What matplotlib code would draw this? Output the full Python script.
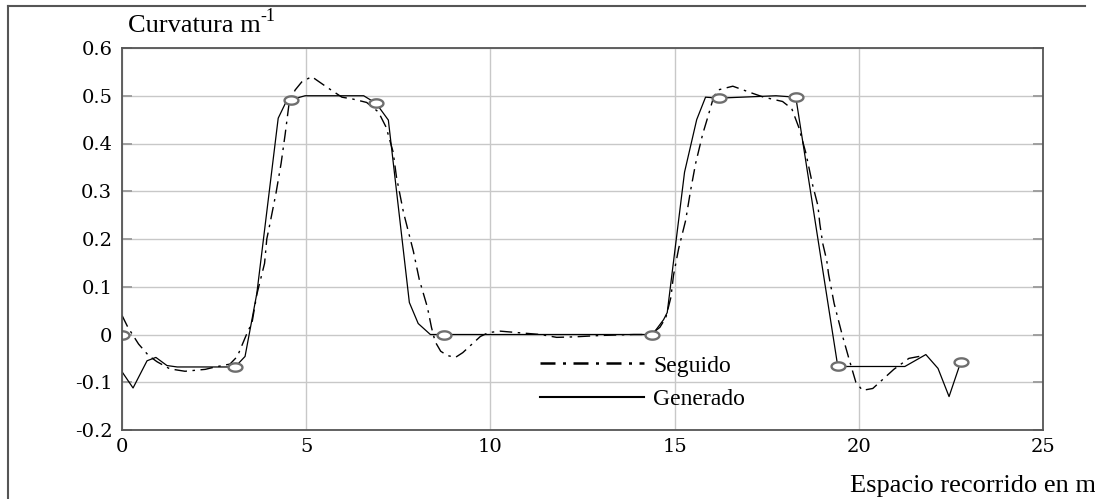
import numpy as np
import matplotlib
matplotlib.use('Agg')
import matplotlib.pyplot as plt
from matplotlib.path import Path
from matplotlib.lines import Line2D

# curva generada (linea continua)
x_gen = [0, 0, 0.3, 0.68, 0.92, 1.22, 1.5, 3.07, 3.34, 3.66, 4.24, 4.49, 4.6, 4.97,
         6.56, 6.9, 7.23, 7.8, 8.04, 8.37, 8.75, 14.4, 14.7, 14.8, 15.27, 15.6, 15.84,
         16.2, 17.75, 18.29, 19.43, 21.25, 21.82, 22.15, 22.45, 22.77]
y_gen = [0, -0.078, -0.112, -0.055, -0.048, -0.065, -0.068, -0.068, -0.046, 0.086,
         0.453, 0.493, 0.492, 0.5, 0.5, 0.484, 0.449, 0.067, 0.023, 0, 0, 0, 0.031,
         0.046, 0.34, 0.45, 0.497, 0.495, 0.5, 0.497, -0.067, -0.067, -0.042, -0.071,
         -0.13, -0.057]

# curva seguida (punto-raya)
x_seg = [0, 0.16, 0.45, 0.72, 0.95, 1.3, 1.71, 2.26, 2.53, 2.93, 3.13, 3.39, 3.53,
         3.66, 3.87, 3.93, 4.0, 4.18, 4.32, 4.43, 4.54, 4.7, 4.88, 5.15, 5.56, 5.97,
         6.27, 6.64, 6.96, 7.17, 7.36, 7.45, 7.64, 7.91, 8.07, 8.29, 8.4, 8.5, 8.65,
         8.83, 9.05, 9.25, 9.46, 9.73, 9.95, 10.27, 10.73, 11.36, 11.8, 12.26, 13.0,
         13.9, 14.35, 14.6, 14.76, 14.9, 14.97, 15.11, 15.3, 15.43, 15.57, 15.76, 15.9,
         16.05, 16.17, 16.58, 17.12, 17.42, 17.93, 18.18, 18.37, 18.56, 18.75, 18.89,
         18.94, 19.02, 19.13, 19.18, 19.33, 19.54, 19.73, 19.92, 20.1, 20.38, 20.68,
         20.95, 21.36, 21.7]
y_seg = [0.04, 0.015, -0.02, -0.044, -0.057, -0.072, -0.077, -0.073, -0.068, -0.062,
         -0.046, 0.002, 0.025, 0.084, 0.149, 0.2, 0.226, 0.296, 0.359, 0.42, 0.487,
         0.512, 0.529, 0.54, 0.518, 0.497, 0.493, 0.486, 0.466, 0.434, 0.382, 0.33,
         0.256, 0.174, 0.115, 0.057, 0.015, -0.015, -0.035, -0.044, -0.048, -0.038,
         -0.023, -0.004, 0.004, 0.007, 0.004, 0, -0.006, -0.005, -0.002, 0, 0, 0.015,
         0.035, 0.078, 0.124, 0.18, 0.239, 0.3, 0.358, 0.419, 0.455, 0.495, 0.512,
         0.52, 0.505, 0.497, 0.488, 0.473, 0.434, 0.381, 0.312, 0.27, 0.233, 0.191,
         0.155, 0.126, 0.065, 0.002, -0.05, -0.1, -0.117, -0.113, -0.092, -0.073,
         -0.05, -0.045]

# puntos de paso
x_pts = [0, 3.07, 4.6, 6.9, 8.75, 14.4, 16.2, 18.29, 19.43, 22.77]
y_pts = [0, -0.068, 0.492, 0.484, 0, 0, 0.495, 0.497, -0.067, -0.057]

xticks = [0, 5, 10, 15, 20, 25]
yticks = [-0.2, -0.1, 0, 0.1, 0.2, 0.3, 0.4, 0.5, 0.6]
ytick_labels = ['-0.2', '-0.1', '0', '0.1', '0.2', '0.3', '0.4', '0.5', '0.6']

# marcador eliptico
t = np.linspace(0, 2 * np.pi, 40)
elipse = Path(np.column_stack([np.cos(t), 0.6 * np.sin(t)]), closed=True)

fig = plt.figure(figsize=(10.95, 4.99), dpi=100)
ax = fig.add_axes([122 / 1095, 1 - 430 / 499, 921 / 1095, 382 / 499])

dashdot = (0, (9, 4, 1.8, 4))
ax.plot(x_seg, y_seg, color='black', lw=1.0, linestyle=dashdot)
ax.plot(x_gen, y_gen, color='black', lw=0.9)
ax.plot(x_pts, y_pts, linestyle='none', marker=elipse, ms=10, mfc='white',
        mec='#6e6e6e', mew=1.7)

ax.set_xlim(0, 25)
ax.set_ylim(-0.2, 0.6)
ax.set_xticks(xticks)
ax.set_yticks(yticks)
ax.set_yticklabels(ytick_labels)
ax.grid(True, color='#c8c8c8', lw=1.0)
ax.set_axisbelow(True)
for s in ax.spines.values():
    s.set_color('#555555')
    s.set_linewidth(1.3)
ax.tick_params(axis='y', direction='in', length=7, width=1.3, color='#9a9a9a',
               right=True, pad=7, labelsize=14)
ax.tick_params(axis='x', length=0, pad=6, labelsize=14)
for lab in ax.get_xticklabels() + ax.get_yticklabels():
    lab.set_family('DejaVu Serif')

handles = [Line2D([], [], color='black', lw=1.8, linestyle=(0, (6, 3, 1.2, 3))),
           Line2D([], [], color='black', lw=1.5)]
ax.legend(handles, ['Seguido', 'Generado'], loc='center left',
          bbox_to_anchor=(0.454, 0.124), frameon=False, borderpad=0,
          borderaxespad=0, handlelength=4.4, handletextpad=0.4,
          labelspacing=0.5, prop={'family': 'Liberation Serif', 'size': 17})

fig.text(128 / 1095, 1 - 32 / 499, 'Curvatura m',
         family='Liberation Serif', fontsize=19, va='baseline')
fig.text(260 / 1095, 1 - 21 / 499, '-1',
         family='Liberation Serif', fontsize=13, va='baseline')
fig.text(850 / 1095, 1 - 492 / 499, 'Espacio recorrido en m',
         family='Liberation Serif', fontsize=19, va='baseline')

# marco exterior
fig.add_artist(Line2D([8 / 1095, 1085 / 1095], [1 - 6 / 499, 1 - 6 / 499],
                      color='#555555', lw=1.5))
fig.add_artist(Line2D([8 / 1095, 8 / 1095], [1 - 6 / 499, 0],
                      color='#555555', lw=1.5))

fig.savefig('out.png', dpi=100)
